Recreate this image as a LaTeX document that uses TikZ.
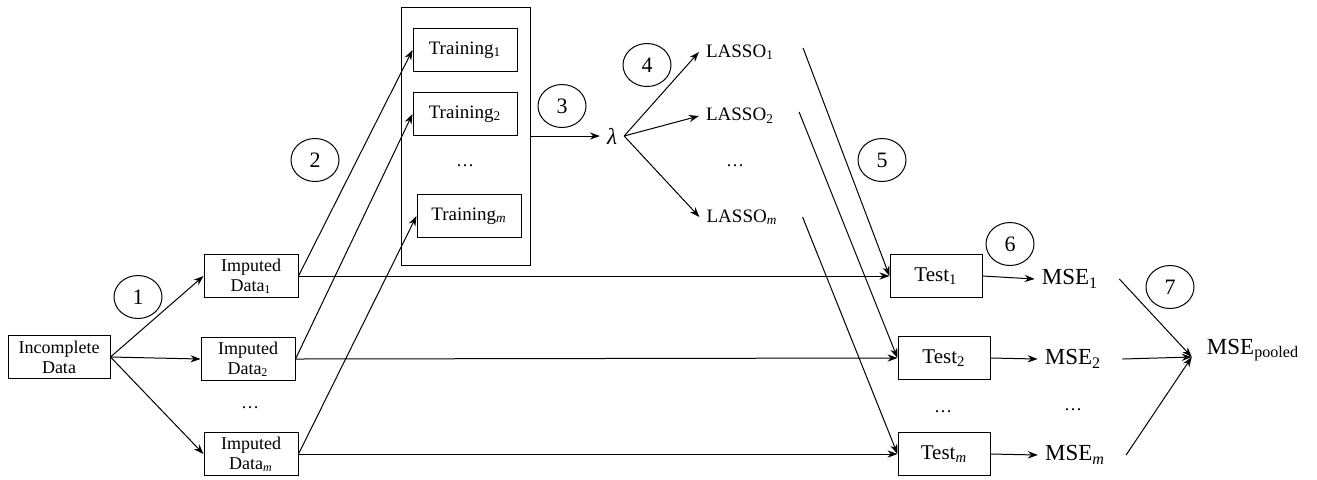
\documentclass[tikz,border=0pt]{standalone}
\usepackage{fontspec}
\setmainfont{Liberation Serif}
\usetikzlibrary{arrows.meta,shapes.geometric}

\begin{document}
\begin{tikzpicture}[x=0.5pt,y=-0.5pt,font=\fontsize{9}{10}\selectfont,
  >={Stealth[length=5pt,width=3.6pt]},line width=0.5pt,
  box/.style={draw,align=center,inner sep=1pt,minimum height=21.5pt},
  stepno/.style={draw,ellipse,minimum width=24pt,minimum height=21.5pt,inner sep=0pt,font=\fontsize{11}{12}\selectfont},
  big/.style={font=\fontsize{11.5}{12}\selectfont}]
  \useasboundingbox (0,0) rectangle (1317,479);

  % data sets
  \node[box,minimum width=51pt] (inc) at (59,357) {Incomplete\\Data};
  \node[box,minimum width=47pt] (imp1) at (251,276) {Imputed\\Data\textsubscript{1}};
  \node[box,minimum width=47pt] (imp2) at (248,359) {Imputed\\Data\textsubscript{2}};
  \node (impdots) at (250,408) {\dots};
  \node[box,minimum width=47pt] (impm) at (251,454) {Imputed\\Data\textsubscript{\textit{m}}};

  % training sets
  \node[draw,minimum width=64.5pt,minimum height=129pt,inner sep=0pt] (trall) at (465.5,136) {};
  \node[box,minimum width=52pt,font=\fontsize{9.5}{10}\selectfont] (tr1) at (465,50) {Training\textsubscript{1}};
  \node[box,minimum width=52pt,font=\fontsize{9.5}{10}\selectfont] (tr2) at (465,114) {Training\textsubscript{2}};
  \node (trdots) at (465,166) {\dots};
  \node[box,minimum width=52pt,font=\fontsize{9.5}{10}\selectfont] (trm) at (469,216) {Training\textsubscript{\textit{m}}};

  % tuning and fits
  \node[big] (lam) at (612,136) {\textit{λ}};
  \node[font=\fontsize{9.5}{10}\selectfont] (las1) at (740,52) {LASSO\textsubscript{1}};
  \node[font=\fontsize{9.5}{10}\selectfont] (las2) at (740,116) {LASSO\textsubscript{2}};
  \node (lasdots) at (735,166) {\dots};
  \node[font=\fontsize{9.5}{10}\selectfont] (lasm) at (742,217) {LASSO\textsubscript{\textit{m}}};

  % test sets and errors
  \node[box,minimum width=46pt,font=\fontsize{10.5}{11}\selectfont] (test1) at (936,276) {Test\textsubscript{1}};
  \node[box,minimum width=46pt,font=\fontsize{10.5}{11}\selectfont] (test2) at (944,358) {Test\textsubscript{2}};
  \node (testdots) at (943,412) {\dots};
  \node[box,minimum width=46pt,font=\fontsize{10.5}{11}\selectfont] (testm) at (944,454) {Test\textsubscript{\textit{m}}};
  \node[big] (mse1) at (1070,279) {MSE\textsubscript{1}};
  \node[big] (mse2) at (1073,359) {MSE\textsubscript{2}};
  \node (msedots) at (1073,410) {\dots};
  \node[big] (msem) at (1075,455) {MSE\textsubscript{\textit{m}}};
  \node[big] (pool) at (1253,350) {MSE\textsubscript{pooled}};

  % step numbers
  \foreach \n/\x/\y in {1/138/297,2/315/160,3/562/106,4/647/65,5/882/160,6/1010/244,7/1170/287}
    \node[stepno] (c\n) at (\x,\y) {\n};

  % connectors
  \foreach \i in {1,2,m} {
    \draw[->] (inc.east) -- (imp\i.west);
    \draw[->] (imp\i.east) -- (tr\i.west);
    \draw[->] (imp\i.east) -- (test\i.west);
    \draw[->] (lam.east) -- (las\i.west);
    \draw[->] (test\i.east) -- (mse\i.west);
  }
  \draw[->] (trall.east) -- (lam.west);

  \coordinate (l1out) at ([xshift=11pt,yshift=2pt]las1.east);
  \coordinate (l2out) at ([xshift=9pt,yshift=2pt]las2.east);
  \coordinate (lmout) at ([xshift=9pt,yshift=0pt]lasm.east);
  \foreach \i in {1,2,m}
    \draw[->] (l\i out) -- (test\i.west);

  \coordinate (pin) at ([xshift=-4pt,yshift=-3.5pt]pool.west);
  \foreach \i in {1,2,m}
    \draw[->] ([xshift=7pt]mse\i.east) -- (pin);
\end{tikzpicture}
\end{document}
